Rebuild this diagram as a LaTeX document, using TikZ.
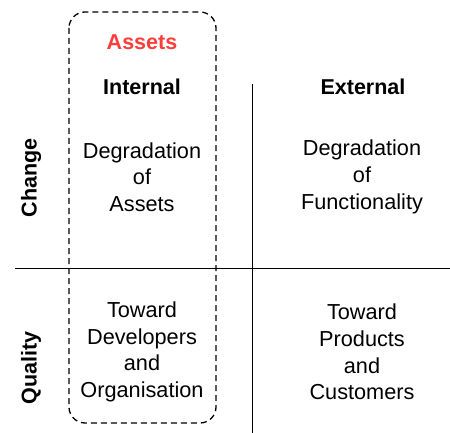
\documentclass[tikz,border=0pt]{standalone}
\usepackage{fontspec}
\setmainfont{Liberation Sans}
\usepackage{tikz}

\begin{document}
\begin{tikzpicture}[x=1pt, y=-1pt, font=\fontsize{21.7}{26.7}\selectfont, line width=1.4pt, cell/.style = {align=center}, head/.style = {font=\fontsize{21.5}{27}\selectfont\bfseries}, side/.style = {font=\fontsize{21.5}{27}\selectfont\bfseries, rotate=90}]
                \useasboundingbox (0,0) rectangle (450,433);
                \definecolor{assetred}{RGB}{255,60,60}
                \draw[dashed, dash pattern=on 6pt off 4pt, rounded corners=16pt, line width=1.3pt] (69,12) rectangle (216,423);
                \coordinate (hl) at (15,268.5);
                \coordinate (hr) at (450,268.5);
                \coordinate (vt) at (252.5,84);
                \coordinate (vb) at (252.5,433);
                \draw (hl) -- (hr);
                \draw (vt) -- (vb);
                \node[head, text=assetred] (assets) at (142,42) {Assets};
                \node[head] (int) at (142,87) {Internal};
                \node[head] (ext) at (363,87) {External};
                \node[side] (chg) at (31,178) {Change};
                \node[side] (qual) at (31,368) {Quality};
                \node[cell] (c11) at (142,177) {Degradation\\of\\Assets};
                \node[cell] (c12) at (362,177) {Degradation\\of\\Functionality};
                \node[cell] (c21) at (142,352) {Toward\\Developers\\and\\Organisation};
                \node[cell] (c22) at (362,352) {Toward\\Products\\and\\Customers};
            \end{tikzpicture}
\end{document}
